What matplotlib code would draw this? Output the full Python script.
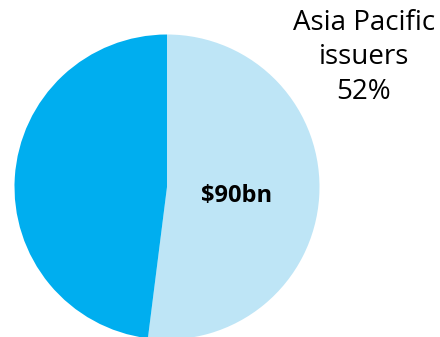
import matplotlib
matplotlib.use('Agg')
import matplotlib.pyplot as plt

# Issuance split by issuer region
regions = ['Asia Pacific issuers', 'Other issuers']
shares = [52, 48]
colors = ['#BEE5F6', '#00AEEF']
total_label = '$90bn'

plt.rcParams['font.family'] = ['Open Sans', 'DejaVu Sans']

fig = plt.figure(figsize=(4.4, 3.37), dpi=100)
ax = fig.add_axes([0, 0, 1, 1])

ax.pie(shares, colors=colors, startangle=90, counterclock=False,
       center=(167, 150), radius=152.5, frame=True,
       wedgeprops=dict(linewidth=0))
ax.set_xlim(0, 440)
ax.set_ylim(0, 337)
ax.axis('off')

ax.text(237, 141, total_label, ha='center', va='center',
        fontsize=17, fontweight='bold', color='black')
ax.text(364, 328, f'Asia Pacific\nissuers\n{shares[0]}%', ha='center', va='top',
        fontsize=20, color='black', linespacing=1.3)

fig.savefig('out.png', dpi=100)
